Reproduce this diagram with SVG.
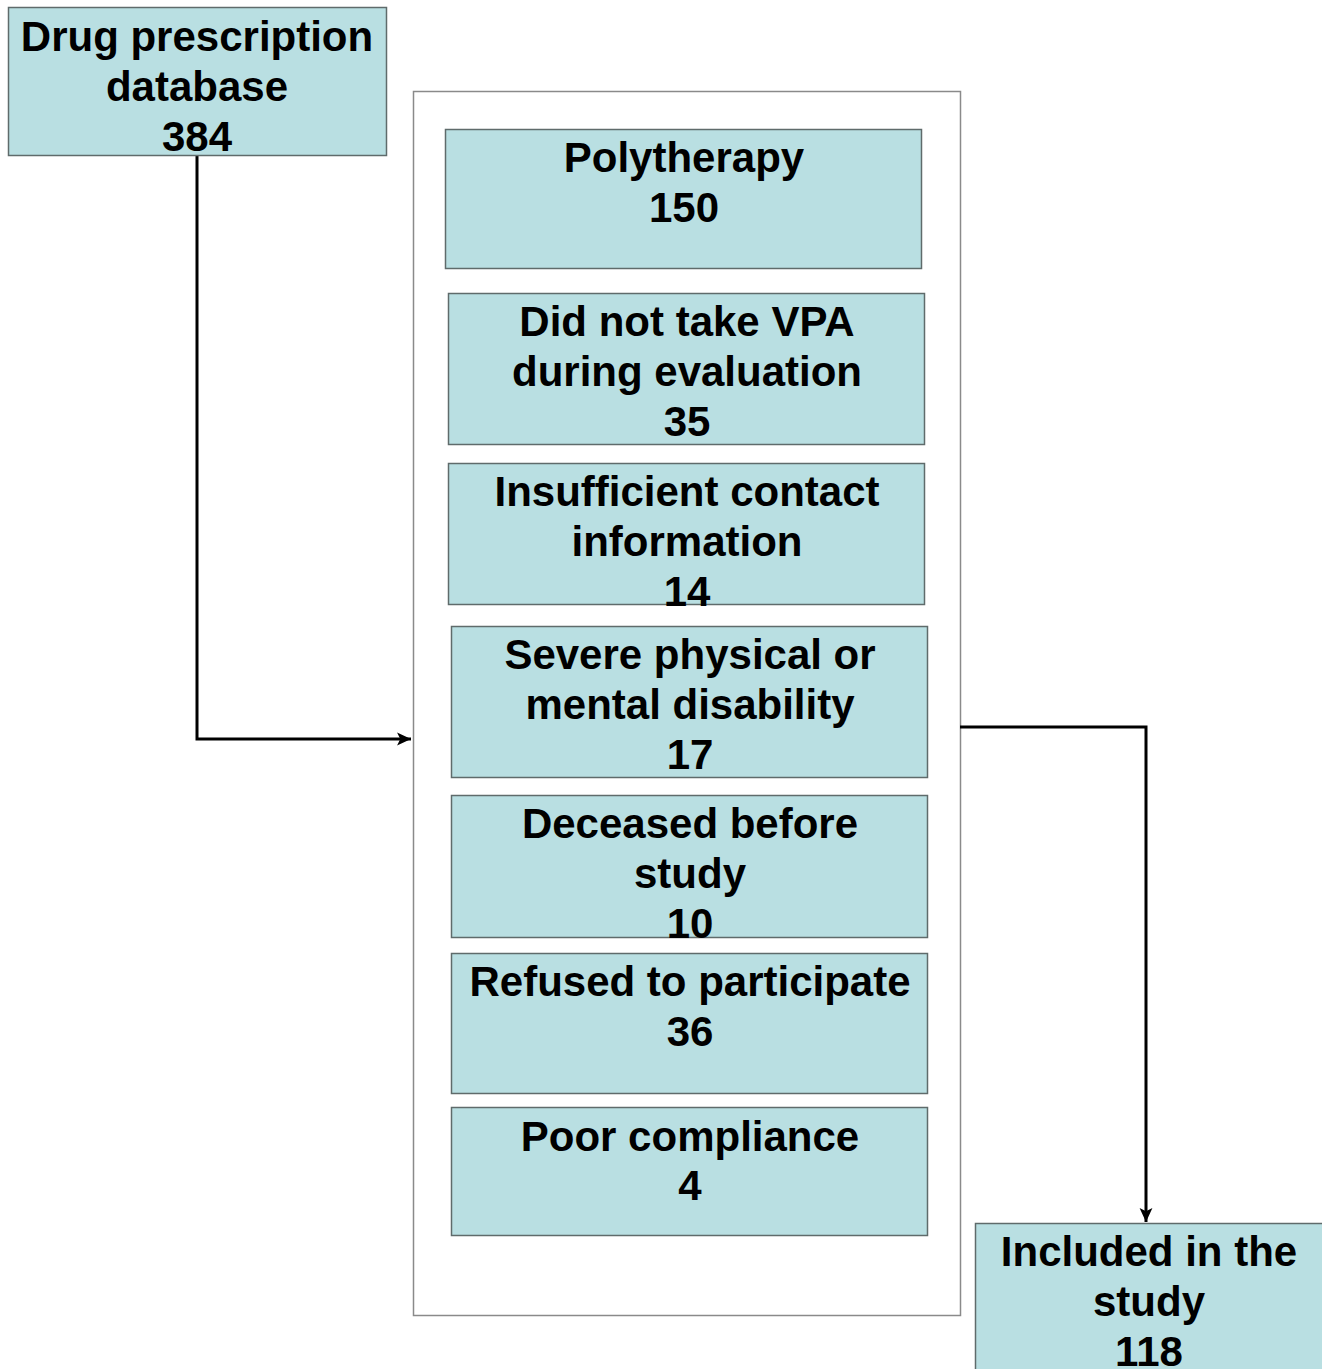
<svg xmlns="http://www.w3.org/2000/svg" width="1322" height="1369" viewBox="0 0 1322 1369">
<style>
.box{fill:#b9dfe2;stroke:#5f6b6b;stroke-width:1.5}
.t{font-family:"Liberation Sans",Arial,sans-serif;font-weight:bold;font-size:42px;fill:#000;text-anchor:middle}
.c{fill:none;stroke:#000;stroke-width:3}
</style>
<defs>
<marker id="ah2" viewBox="0 0 14 14" refX="13" refY="7" markerWidth="15" markerHeight="15" orient="auto" markerUnits="userSpaceOnUse">
<path d="M0,1 L13,7 L0,13 L3,7 Z" fill="#000"/>
</marker>
</defs>
<rect width="1322" height="1369" fill="#fff"/>
<g id="container"><rect x="413.5" y="91.5" width="547" height="1224" fill="#fff" stroke="#8a8a8a" stroke-width="1.5"/></g>
<g id="connectors">
<path class="c" d="M197,156 V739 H411" marker-end="url(#ah2)"/>
<path class="c" d="M960,727 H1146 V1222" marker-end="url(#ah2)"/>
</g>
<g id="n-database"><rect class="box" x="8.5" y="7.5" width="378" height="148"/>
<text class="t" x="197" y="51">Drug prescription</text><text class="t" x="197" y="101">database</text><text class="t" x="197" y="151">384</text></g>
<g id="n-poly"><rect class="box" x="445.5" y="129.5" width="476" height="139"/>
<text class="t" x="684" y="172">Polytherapy</text><text class="t" x="684" y="222">150</text></g>
<g id="n-vpa"><rect class="box" x="448.5" y="293.5" width="476" height="151"/>
<text class="t" x="687" y="336">Did not take VPA</text><text class="t" x="687" y="386">during evaluation</text><text class="t" x="687" y="436">35</text></g>
<g id="n-contact"><rect class="box" x="448.5" y="463.5" width="476" height="141"/>
<text class="t" x="687" y="506">Insufficient contact</text><text class="t" x="687" y="556">information</text><text class="t" x="687" y="606">14</text></g>
<g id="n-disability"><rect class="box" x="451.5" y="626.5" width="476" height="151"/>
<text class="t" x="690" y="669">Severe physical or</text><text class="t" x="690" y="719">mental disability</text><text class="t" x="690" y="769">17</text></g>
<g id="n-deceased"><rect class="box" x="451.5" y="795.5" width="476" height="142"/>
<text class="t" x="690" y="838">Deceased before</text><text class="t" x="690" y="888">study</text><text class="t" x="690" y="938">10</text></g>
<g id="n-refused"><rect class="box" x="451.5" y="953.5" width="476" height="140"/>
<text class="t" x="690" y="996">Refused to participate</text><text class="t" x="690" y="1046">36</text></g>
<g id="n-compliance"><rect class="box" x="451.5" y="1107.5" width="476" height="128"/>
<text class="t" x="690" y="1151">Poor compliance</text><text class="t" x="690" y="1200">4</text></g>
<g id="n-included"><rect class="box" x="975.5" y="1223.5" width="350" height="150"/>
<text class="t" x="1149" y="1266">Included in the</text><text class="t" x="1149" y="1316">study</text><text class="t" x="1149" y="1366">118</text></g>
</svg>
